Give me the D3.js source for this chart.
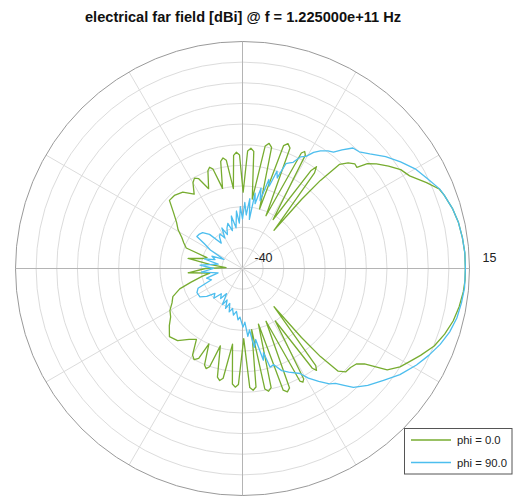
<!DOCTYPE html>
<html>
<head>
<meta charset="utf-8">
<script src="https://cdn.jsdelivr.net/npm/d3@7"></script>
<style>
  html, body { margin: 0; padding: 0; background: #fff; }
  svg { display: block; }
</style>
</head>
<body>
<svg id="chart" width="515" height="496"></svg>
<script>
// ---------- data ----------
const titleText = "electrical far field [dBi] @ f = 1.225000e+11 Hz";
const seriesNames = ["phi = 0.0", "phi = 90.0"];
const rMin = -40, rMax = 15;
const ringValues = [-35, -30, -25, -20, -15, -10, -5, 0, 5, 10, 15];
const spokeAngles = [0, 30, 60, 90, 120, 150, 180, 210, 240, 270, 300, 330];
const rLabels = ["-40", "15"];

// phi = 0.0  (angle in degrees, counter-clockwise from the right, value in dBi)
const thetaPhi0 = [0, 4, 8, 12, 16, 20, 22, 25, 29, 32, 35, 38, 40, 41.5, 43, 45, 47, 48.5, 49.5, 50.5,
  53, 54, 55, 58, 61, 62, 63, 66, 68.5, 70, 71.5, 74, 76.5, 78, 79.5, 82, 84.5, 86, 87.5, 89.5,
  91.5, 93, 94.5, 96.5, 98.5, 100, 101.5, 104, 106.5, 108, 109.5, 113, 116, 118, 120, 123, 128, 133, 137,
  141, 145, 149, 153, 156.5, 160, 163, 166, 169.5, 173, 177, 180, 184.5, 188, 191, 195, 198, 202,
  206, 210, 214, 218, 223, 228, 233, 237, 240, 242, 244, 246, 248.5, 250, 251.5, 254, 257, 258.5, 260,
  262.5, 265, 266.5, 268, 271, 273.5, 275, 276.5, 278.5, 280.5, 282, 283.5, 286, 288.5, 290, 291.5,
  294, 297, 298, 299, 302, 305, 306, 307, 309.5, 310.5, 311.5, 313, 315, 317.5, 320, 322, 325, 328, 331,
  334, 338, 342, 346, 350, 354, 357, 360];
const valuePhi0 = [14.0, 14.0, 13.8, 13.5, 12.9, 12.0, 11.4, 9.2, 6.3, 5.2, 3.2, 1.2, -0.5, -3.0, -2.8, -3.8, -5.5, -11.5, -18, -28,
  -11, -9.5, -11, -26, -8.6, -7.9, -8.6, -26, -8.6, -7.8, -8.6, -25, -9.8, -9.0, -9.8, -23, -11.5, -10.8, -11.5, -21.5,
  -12.5, -11.8, -12.5, -20.5, -13.5, -12.8, -13.5, -20, -14.9, -14.2, -14.9, -19, -15.8, -15.2, -16, -18.5, -16.5, -15.8, -15.8,
  -18.5, -20.5, -21.8, -23.5, -24.5, -25.5, -31, -30, -26.6, -32, -36, -31, -26.8, -32, -30, -27, -24, -21.8,
  -21, -19.7, -19, -17.5, -15.8, -16.5, -18.5, -19.5, -15.8, -15.0, -15.8, -20, -14.9, -14.2, -14.9, -20.5, -13.0, -12.3, -13.0,
  -21.5, -11.9, -11.2, -11.9, -23, -11.1, -10.4, -11.1, -25, -10.3, -9.6, -10.3, -26, -8.9, -8.2, -8.9,
  -26, -9.4, -8.8, -9.4, -25, -10.5, -9.5, -10.5, -28, -18, -11.5, -6, -4.6, -4.5, -4.0, -2.5, 2.8, 5.0, 6.4,
  8.0, 10.1, 11.5, 12.6, 13.3, 13.8, 14.0, 14.0];

// phi = 90.0
const thetaPhi90 = [0, 4, 8, 12, 16, 20, 22, 26, 30, 34, 38, 42, 45, 47.5, 50, 52, 54, 56.5, 58.5, 60.5,
  62.5, 64.5, 66, 67.5, 69, 70.5, 72, 73.5, 75.5, 77, 79, 80.5, 82, 84, 86, 88, 90, 92, 94, 96, 99,
  102, 105, 108, 111, 114, 117, 120, 123, 126, 130, 134, 138, 142, 145, 147, 150, 154, 158, 162, 166,
  170, 175.5, 180, 185, 190, 195, 200, 204, 208, 213.7, 218, 222, 226, 230, 234, 237.7, 241, 244, 247,
  250, 253, 256, 259, 262, 265, 267, 270.5, 272.5, 274.5, 276.5, 278.5, 280.5, 282.8, 284, 285.6, 288,
  291, 294, 298.7, 301, 304, 307, 309, 311, 313, 317, 321.6, 326, 331, 335, 339, 343, 347, 351, 355, 360];
const valuePhi90 = [14.0, 14.0, 13.8, 13.5, 12.9, 12.0, 11.5, 9.8, 8.3, 6.2, 4.0, 1.5, 0.0, -0.4, -2.5, -4.2, -4.8, -5.8, -7.0, -8.8,
  -9.5, -11.5, -12.0, -12.5, -16.5, -15.0, -19, -17.5, -23, -20, -24, -21.5, -28, -23, -27, -24, -28, -25, -29, -26, -30,
  -27, -30.5, -28.5, -29.5, -31, -29, -31.5, -30, -30.5, -32, -28.5, -27, -26.6, -26.5, -29, -31, -35, -32, -33, -30.5,
  -34, -29.7, -33, -30, -34, -31, -32, -28.2, -27.5, -27.6, -29, -31, -30, -32, -31, -32.8, -30, -31.5, -29.5,
  -31, -29, -30, -28.5, -29.5, -27.5, -28.2, -25.8, -27, -23.5, -25, -20.7, -22.5, -17.2, -19, -15.2, -15.5,
  -13.5, -12.5, -11, -9.0, -7.0, -5.0, -4.2, -2.5, -0.6, 1.5, 3.6, 6.0, 8.2, 9.8, 11.3, 12.5, 13.3, 13.7, 14.0, 14.0];

const colors = ["#77ac30", "#4dbeee"];

// ---------- layout ----------
const cx = 242.5, cy = 268.5, R = 227;
const svg = d3.select("#chart");
const rScale = d3.scaleLinear().domain([rMin, rMax]).range([0, R]).clamp(true);
const toRad = d => d * Math.PI / 180;

const g = svg.append("g").attr("transform", `translate(${cx},${cy})`);

// rings
g.selectAll("circle.ring").data(ringValues.slice(0, -1)).join("circle")
  .attr("class", "ring").attr("r", d => rScale(d))
  .attr("fill", "none").attr("stroke", "#dcdcdc").attr("stroke-width", 1);

// spokes
g.selectAll("line.spoke").data(spokeAngles).join("line")
  .attr("class", "spoke")
  .attr("x1", 0).attr("y1", 0)
  .attr("x2", d => rScale(rMax) * Math.cos(toRad(d)))
  .attr("y2", d => -rScale(rMax) * Math.sin(toRad(d)))
  .attr("stroke", d => d % 90 === 0 ? "#b4b4b4" : "#dcdcdc")
  .attr("stroke-width", 1);

// outer circle
g.append("circle").attr("r", rScale(rMax))
  .attr("fill", "none").attr("stroke", "#9a9a9a").attr("stroke-width", 1);

// traces
const radial = d3.lineRadial()
  .angle(d => toRad(90 - d[0]))
  .radius(d => rScale(d[1]));

const series = [
  thetaPhi0.map((t, i) => [t, valuePhi0[i]]),
  thetaPhi90.map((t, i) => [t, valuePhi90[i]])
];
series.forEach((s, i) => {
  g.append("path").attr("d", radial(s))
    .attr("fill", "none").attr("stroke", colors[i])
    .attr("stroke-width", 1.3).attr("stroke-linejoin", "round");
});

// radial labels
svg.append("text").attr("x", cx + 12).attr("y", cy - 6.5)
  .attr("font-family", "Liberation Sans, Arial, sans-serif").attr("font-size", 12.5)
  .attr("fill", "#222").text(rLabels[0]);
svg.append("text").attr("x", cx + R + 13).attr("y", cy - 6.5)
  .attr("font-family", "Liberation Sans, Arial, sans-serif").attr("font-size", 12.5)
  .attr("fill", "#222").text(rLabels[1]);

// title
svg.append("text").attr("x", 243).attr("y", 22)
  .attr("text-anchor", "middle")
  .attr("font-family", "Liberation Sans, Arial, sans-serif").attr("font-size", 14.6)
  .attr("font-weight", "bold").attr("fill", "#111").text(titleText);

// legend
const lg = svg.append("g");
lg.append("rect").attr("x", 404.5).attr("y", 428.5).attr("width", 107.5).attr("height", 45.5)
  .attr("fill", "#fff").attr("stroke", "#555").attr("stroke-width", 1);
seriesNames.forEach((name, i) => {
  const y = 440 + i * 22.5;
  lg.append("line").attr("x1", 411).attr("x2", 451).attr("y1", y).attr("y2", y)
    .attr("stroke", colors[i]).attr("stroke-width", 1.3);
  lg.append("text").attr("x", 457).attr("y", y + 4)
    .attr("font-family", "Liberation Sans, Arial, sans-serif").attr("font-size", 11.3)
    .attr("fill", "#222").text(name);
});
</script>
</body>
</html>
